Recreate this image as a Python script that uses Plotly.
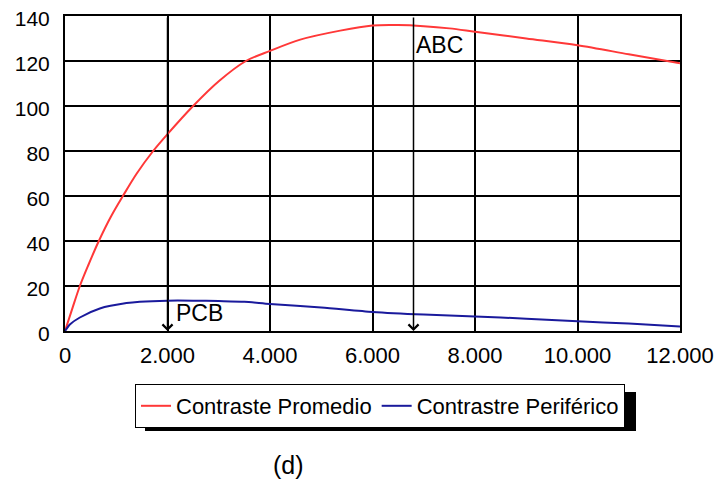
import plotly.graph_objects as go

# Data
x_red = [0, 150, 290, 450, 660, 900, 1130, 1400, 1720, 2000, 2500, 3000, 3530, 4000, 4590,
         5370, 6000, 6500, 7000, 7500, 8000, 9000, 10000, 11000, 12000]
y_red = [0, 10.5, 20, 29, 40, 51, 60, 70, 80, 87.5, 100, 111, 120, 124.5, 129.5,
         133.5, 135.8, 136, 135.5, 134.5, 133, 130, 127, 123, 119]

x_blue = [0, 100, 290, 680, 1200, 1460, 2000, 2500, 3000, 3500, 4000, 5000, 6000,
          7000, 8000, 9000, 10000, 11000, 12000]
y_blue = [0, 3, 6, 10, 12.4, 13, 13.5, 13.5, 13.3, 13, 12, 10.5, 8.5,
          7.3, 6.5, 5.5, 4.3, 3.3, 2]

series_names = ["Contraste Promedio", "Contrastre Periférico"]
x_ticks = [0, 2000, 4000, 6000, 8000, 10000, 12000]
y_ticks = [0, 20, 40, 60, 80, 100, 120, 140]
marker_labels = ["PCB", "ABC"]
marker_x = [2000, 6800]
label_pos = [(2620, 8), (7300, 127)]

FONT = "Liberation Sans, Arial, sans-serif"
W, H = 722, 479
OFF = 8  # page body margin
# target plot area in screenshot pixels: left 65, right 680, top 16, bottom 331
ML, MT = 65 - OFF, 16 - OFF
pw, ph = 615, 315
MR, MB = W - ML - pw, H - MT - ph


def px_x(p):
    return (p - OFF - ML) / pw


def px_y(p):
    return (H - MB - (p - OFF)) / ph


fig = go.Figure()
fig.add_trace(go.Scatter(x=x_red, y=y_red, mode="lines", name=series_names[0],
                         line=dict(color="#ff3838", width=2, shape="spline", smoothing=0.9)))
fig.add_trace(go.Scatter(x=x_blue, y=y_blue, mode="lines", name=series_names[1],
                         line=dict(color="#1a1a9c", width=2, shape="spline", smoothing=0.7)))

annotations = []
for xm in marker_x:
    annotations.append(dict(x=xm, y=0, ax=xm, ay=140, xref="x", yref="y", axref="x", ayref="y",
                            showarrow=True, arrowhead=4, arrowsize=1.3, arrowwidth=1.5,
                            arrowcolor="black", text=""))
for lab, (lx, ly) in zip(marker_labels, label_pos):
    annotations.append(dict(x=lx, y=ly, xref="x", yref="y", text=lab, showarrow=False,
                            font=dict(family=FONT, size=23, color="black")))
annotations.append(dict(x=px_x(288), y=px_y(465), xref="paper", yref="paper",
                        xanchor="center", yanchor="middle",
                        text="(d)", showarrow=False, font=dict(family=FONT, size=25, color="black")))

fig.update_layout(
    width=W, height=H,
    margin=dict(l=ML, r=MR, t=MT, b=MB),
    paper_bgcolor="white", plot_bgcolor="white",
    separators=",.",
    showlegend=True,
    legend=dict(orientation="h", x=px_x(135), y=px_y(384), xanchor="left", yanchor="top",
                bgcolor="white", bordercolor="black", borderwidth=1,
                font=dict(family=FONT, size=22, color="black"),
                itemwidth=30, tracegroupgap=0),
    font=dict(family=FONT, size=22, color="black"),
    annotations=annotations,
)

# legend shadow
fig.add_shape(type="rect", xref="paper", yref="paper",
              x0=px_x(145), x1=px_x(636), y0=px_y(431), y1=px_y(392),
              fillcolor="black", line=dict(width=0), layer="below")

fig.update_xaxes(range=[0, 12000], tickvals=x_ticks, tickformat=",d", automargin=False,
                 showgrid=True, gridcolor="black", gridwidth=1.6,
                 showline=True, linecolor="black", linewidth=2, mirror=True,
                 zeroline=False, ticks="", ticklabelstandoff=4, ticklabeloverflow="allow",
                 tickfont=dict(family=FONT, size=22))
fig.update_yaxes(range=[0, 140], tickvals=y_ticks, automargin=False,
                 showgrid=True, gridcolor="black", gridwidth=1.6,
                 showline=True, linecolor="black", linewidth=2, mirror=True,
                 zeroline=False, ticks="", ticklabelstandoff=9, ticklabeloverflow="allow",
                 ticklabelshift=3,
                 tickfont=dict(family=FONT, size=21))

fig.write_html("out.html")
